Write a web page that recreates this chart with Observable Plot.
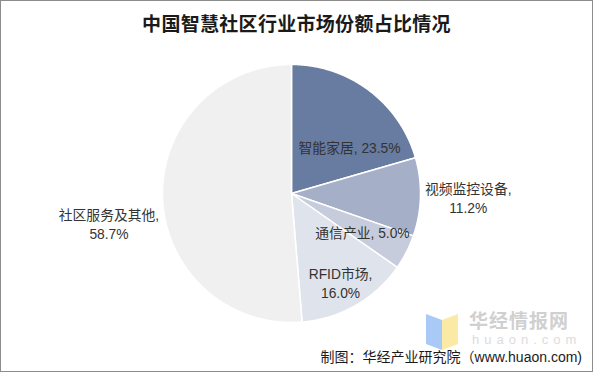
<!DOCTYPE html>
<html>
<head>
<meta charset="utf-8">
<script src="https://cdn.jsdelivr.net/npm/d3@7"></script>
<script src="https://cdn.jsdelivr.net/npm/@observablehq/plot@0.6"></script>
<style>
  html, body { margin: 0; padding: 0; background: #fff; }
  #page { position: relative; width: 593px; height: 373px; overflow: hidden; font-family: "Liberation Sans", "Noto Sans CJK SC", sans-serif; }
  #frame { position: absolute; left: 0; top: 0; width: 591px; height: 370px; border: 1px solid #8c8c8c; pointer-events: none; z-index: 5; }
  #title { position: absolute; left: 0; top: 9px; width: 593px; text-align: center; font-family: "Noto Sans CJK SC", sans-serif; font-weight: 700; font-size: 19px; line-height: 28px; color: #1a1a1a; letter-spacing: 0.3px; }
  #chart { position: absolute; left: 0; top: 40px; }
  #wm { position: absolute; left: 424px; top: 310px; width: 160px; height: 45px; }
  #wm .t1 { position: absolute; left: 45px; top: -1px; font-family: "Noto Sans CJK SC", sans-serif; font-weight: 700; font-size: 19px; line-height: 22px; color: #d0d0d0; letter-spacing: 1px; }
  #wm .t2 { position: absolute; left: 48px; top: 23px; font-family: "Liberation Sans", sans-serif; font-size: 13px; line-height: 13px; color: #dcdcdc; letter-spacing: 5px; }
  #footer { position: absolute; right: 11px; top: 348px; font-family: "Noto Sans CJK SC", "Liberation Sans", sans-serif; font-size: 14px; line-height: 16px; color: #1a1a1a; z-index: 3; }
  #footer .en { font-family: "Liberation Sans", sans-serif; }
</style>
</head>
<body>
<div id="page">
  <div id="frame"></div>
  <div id="title">中国智慧社区行业市场份额占比情况</div>
  <div id="chart"></div>
  <div id="wm">
    <svg width="40" height="42" style="position:absolute;left:0;top:0">
      <polygon points="2,4 18,10 18,40 2,34" fill="#a9c9f7"/>
      <polygon points="18,10 34,4 34,34 18,40" fill="#fbe9a6"/>
    </svg>
    <div class="t1">华经情报网</div>
    <div class="t2">huaon.com</div>
  </div>
  <div id="footer">制图：华经产业研究院（<span class="en">www.huaon.com)</span></div>
</div>
<script>
const categories = ["智能家居", "视频监控设备", "通信产业", "RFID市场", "社区服务及其他"];
const values = [23.5, 11.2, 5.0, 16.0, 58.7];
const valueLabels = ["23.5%", "11.2%", "5.0%", "16.0%", "58.7%"];
const colors = ["#687ba0", "#a5b0c8", "#c6ccdc", "#dfe3ec", "#f0f0f0"];

// label layout (in unit-circle coordinates) and line breaks
const labelPos = [[0.45, 0.36], [1.37, -0.03], [0.55, -0.295], [0.38, -0.69], [-1.415, -0.235]];
const labelBreak = [false, true, false, true, true];

const pie = d3.pie().sort(null).value(d => d.value).startAngle(0).endAngle(2 * Math.PI);
const table = categories.map((c, i) => ({name: c, value: values[i], label: valueLabels[i]}));
const arcs = pie(table);

const outline = [];
for (const a of arcs) {
  outline.push({name: a.data.name, x: 0, y: 0});
  const n = Math.max(2, Math.ceil((a.endAngle - a.startAngle) / (Math.PI / 360)));
  for (let k = 0; k <= n; k++) {
    const t = a.startAngle + (a.endAngle - a.startAngle) * k / n;
    outline.push({name: a.data.name, x: Math.sin(t), y: Math.cos(t)});
  }
  outline.push({name: a.data.name, x: 0, y: 0});
}

const labels = arcs.map((a, i) => ({
  x: labelPos[i][0],
  y: labelPos[i][1],
  text: a.data.name + "," + (labelBreak[i] ? "\n" : " ") + a.data.label
}));

const chart = Plot.plot({
  width: 593,
  height: 300,
  margin: 0,
  x: {domain: [-1, 1], range: [162, 420], axis: null},
  y: {domain: [-1, 1], range: [282, 24], axis: null},
  color: {domain: categories, range: colors},
  style: {background: "transparent", fontFamily: "'Liberation Sans', 'Noto Sans CJK SC', sans-serif"},
  marks: [
    Plot.line(outline, {x: "x", y: "y", z: "name", fill: "name", stroke: "#ffffff", strokeWidth: 1.5, strokeLinejoin: "round", curve: "linear"}),
    Plot.text(labels, {x: "x", y: "y", text: "text", fill: "#333333", fontSize: 13.8, lineHeight: 1.35, textAnchor: "middle"})
  ]
});
document.getElementById("chart").appendChild(chart);
</script>
</body>
</html>
